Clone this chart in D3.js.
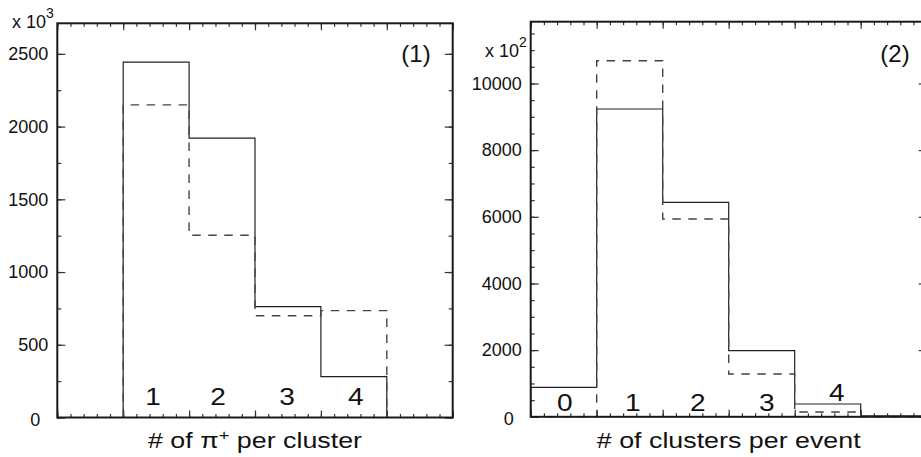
<!DOCTYPE html>
<html lang="en">
  <head>
    <meta charset="UTF-8" />
    <title>Cluster histograms</title>
    <script src="https://d3js.org/d3.v7.min.js"></script>
    <style>
      body {
        margin: 0;
        background: #fff;
      }
      text {
        font-family: "Liberation Sans", Arial, sans-serif;
        fill: #111;
      }
      .frame {
        fill: none;
        stroke: #1a1a1a;
        stroke-width: 2px;
      }
      .axis line {
        stroke: #333;
        stroke-width: 1.2px;
      }
      .axis text {
        font-size: 18px;
      }
      .solid {
        fill: none;
        stroke: #222;
        stroke-width: 1.2px;
      }
      .dashed {
        fill: none;
        stroke: #444;
        stroke-width: 1.4px;
        stroke-dasharray: 8.5 7.5;
      }
    </style>
  </head>
  <body>
    <svg id="chart" width="921" height="457"></svg>
  </body>
  <script>
    // panel (1): pi+ multiplicity per cluster
    const pionBins = [1, 2, 3, 4];
    const pionSolid = [2443, 1920, 762, 281];
    const pionDashed = [2149, 1253, 700, 735];
    const pionYTicks = [0, 500, 1000, 1500, 2000, 2500];
    const pionLabels = ["1", "2", "3", "4"];

    // panel (2): clusters per event
    const clusterBins = [0, 1, 2, 3, 4, 5];
    const clusterSolid = [885, 9234, 6435, 1983, 384, 30];
    const clusterDashed = [0, 10683, 5934, 1284, 144, 0];
    const clusterYTicks = [0, 2000, 4000, 6000, 8000, 10000];
    const clusterLabels = ["0", "1", "2", "3", "4"];

    const svg = d3.select("#chart");

    function drawPanel(p) {
      const x = d3.scaleLinear().domain([-0.5, 5.5]).range([p.left, p.right]);
      const y = d3.scaleLinear().domain([0, p.yMax]).range([p.bottom, p.top]);
      const g = svg.append("g");

      const xMajor = d3.range(0, 7).map((i) => i - 0.5);
      const xMinor = d3.range(0, 31).map((i) => i * 0.2 - 0.5);

      // x ticks (inside, bottom and top)
      [
        [d3.axisBottom, p.bottom],
        [d3.axisTop, p.top],
      ].forEach(([ax, pos]) => {
        g.append("g")
          .attr("class", "axis")
          .attr("transform", `translate(0,${pos})`)
          .call(ax(x).tickValues(xMinor).tickSize(-3.5).tickFormat(""))
          .call((s) => s.select(".domain").remove());
        g.append("g")
          .attr("class", "axis")
          .attr("transform", `translate(0,${pos})`)
          .call(ax(x).tickValues(xMajor).tickSize(-7).tickFormat(""))
          .call((s) => s.select(".domain").remove());
      });

      // y ticks (inside, left with labels, right without)
      const yMinor = d3.range(0, p.yMax, p.yMinorStep);
      g.append("g")
        .attr("class", "axis")
        .attr("transform", `translate(${p.left},0)`)
        .call(d3.axisLeft(y).tickValues(yMinor).tickSize(-4).tickFormat(""))
        .call((s) => s.select(".domain").remove());
      g.append("g")
        .attr("class", "axis")
        .attr("transform", `translate(${p.left},0)`)
        .call(
          d3
            .axisLeft(y)
            .tickValues(p.yTicks)
            .tickSize(-8)
            .tickPadding(9)
            .tickFormat(d3.format("d"))
        )
        .call((s) => s.select(".domain").remove())
        .call((s) =>
          s
            .selectAll(".tick")
            .filter((d) => d === 0)
            .select("text")
            .attr("dx", -8)
            .attr("dy", "0.45em")
        );
      g.append("g")
        .attr("class", "axis")
        .attr("transform", `translate(${p.right},0)`)
        .call(d3.axisRight(y).tickValues(yMinor).tickSize(-4).tickFormat(""))
        .call((s) => s.select(".domain").remove());
      g.append("g")
        .attr("class", "axis")
        .attr("transform", `translate(${p.right},0)`)
        .call(d3.axisRight(y).tickValues(p.yTicks).tickSize(-8).tickFormat(""))
        .call((s) => s.select(".domain").remove());

      // histograms
      const steps = (bins, vals) => {
        const pts = [[bins[0] - 0.5, 0]];
        bins.forEach((b, i) => {
          pts.push([b - 0.5, vals[i]], [b + 0.5, vals[i]]);
        });
        pts.push([bins[bins.length - 1] + 0.5, 0]);
        return pts;
      };
      const line = d3
        .line()
        .x((d) => x(d[0]))
        .y((d) => y(d[1]));
      g.append("path").attr("class", "solid").attr("d", line(steps(p.bins, p.solid)));
      g.append("path").attr("class", "dashed").attr("d", line(steps(p.bins, p.dashed)));

      // frame
      g.append("rect")
        .attr("class", "frame")
        .attr("x", p.left)
        .attr("y", p.top)
        .attr("width", p.right - p.left)
        .attr("height", p.bottom - p.top);

      // bin labels
      g.selectAll(".binlabel")
        .data(p.labels)
        .join("text")
        .attr("class", "binlabel")
        .attr("text-anchor", "middle")
        .attr("font-size", 23)
        .attr(
          "transform",
          (d, i) =>
            `translate(${x(+d) + p.labelDx[i]},${p.labelY[i]}) scale(1.22,1)`
        )
        .text((d) => d);

      // exponent
      const ex = g
        .append("text")
        .attr("x", p.expX)
        .attr("y", p.expY)
        .attr("font-size", 18);
      ex.append("tspan").text("x 10");
      ex.append("tspan")
        .attr("font-size", 14)
        .attr("dy", -10)
        .text(p.exp);

      // panel tag
      g.append("text")
        .attr("x", p.tagX)
        .attr("y", 62)
        .attr("text-anchor", "middle")
        .attr("font-size", 24)
        .text(p.tag);

      // x title
      const t = g
        .append("text")
        .attr("text-anchor", "middle")
        .attr("font-size", 22)
        .attr("transform", `translate(${(p.left + p.right) / 2},448) scale(1.22,1)`);
      p.title(t);
    }

    drawPanel({
      left: 57.3,
      right: 452.7,
      top: 23.3,
      bottom: 417.5,
      yMax: 2710,
      yMinorStep: 250,
      yTicks: pionYTicks,
      bins: pionBins,
      solid: pionSolid,
      dashed: pionDashed,
      labels: pionLabels,
      labelDx: [-3, -4, -1, 2],
      labelY: [405, 405, 405, 405],
      exp: "3",
      expX: 12,
      expY: 28,
      tag: "(1)",
      tagX: 416,
      title: (t) => {
        t.append("tspan").text("# of \u03c0");
        t.append("tspan").attr("font-size", 15).attr("dy", -8).text("+");
        t.append("tspan").attr("dy", 8).text(" per cluster");
      },
    });

    drawPanel({
      left: 530.7,
      right: 926.7,
      top: 21.7,
      bottom: 416.8,
      yMax: 11853,
      yMinorStep: 500,
      yTicks: clusterYTicks,
      bins: clusterBins,
      solid: clusterSolid,
      dashed: clusterDashed,
      labels: clusterLabels,
      labelDx: [1, 3, 2, 5, 9],
      labelY: [411, 411, 411, 411, 401],
      exp: "2",
      expX: 485,
      expY: 57,
      tag: "(2)",
      tagX: 895,
      title: (t) => {
        t.append("tspan").text("# of clusters per event");
      },
    });
  </script>
</html>
